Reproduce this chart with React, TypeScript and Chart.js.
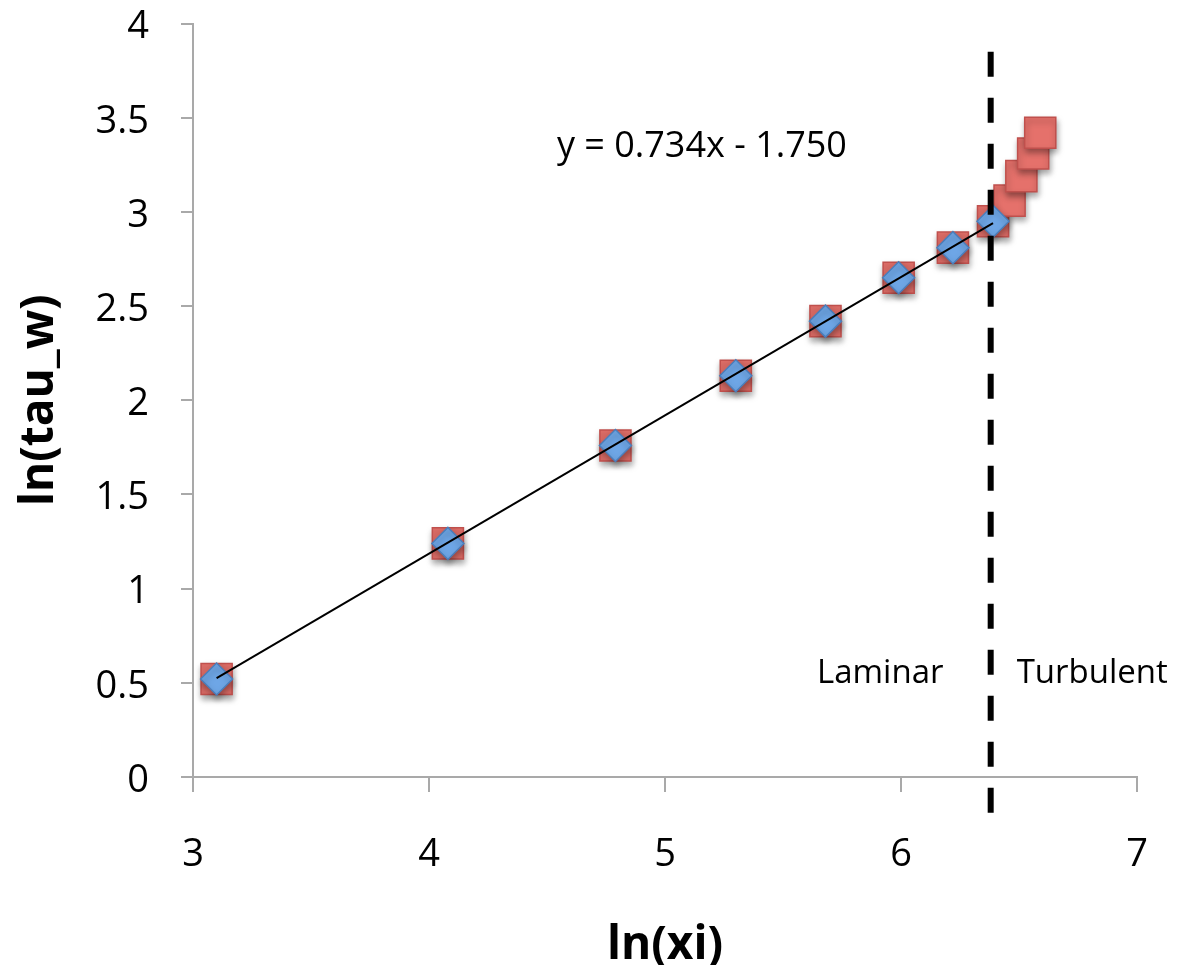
import React, { useEffect, useRef } from 'react';
import { Chart, registerables } from 'chart.js';

Chart.register(...registerables);

// Laminar region measurements (ln(xi), ln(tau_w))
const laminarX = [3.10, 4.08, 4.79, 5.30, 5.68, 5.99, 6.22, 6.39];
const laminarY = [0.52, 1.24, 1.76, 2.13, 2.42, 2.65, 2.81, 2.95];
// Turbulent region measurements
const turbulentX = [6.46, 6.51, 6.56, 6.59];
const turbulentY = [3.06, 3.19, 3.31, 3.42];
// Trend line of the laminar points
const trendSlope = 0.734;
const trendIntercept = -1.75;
const trendXRange = [3.10, 6.39];
const trendLabel = 'y = 0.734x - 1.750';
// Laminar / turbulent boundary
const boundaryX = 6.38;
const boundaryYRange = [3.85, -0.26];
// Axes
const xMin = 3;
const xMax = 7;
const yMin = 0;
const yMax = 4;
const xTickValues = [3, 4, 5, 6, 7];
const yTickValues = [0, 0.5, 1, 1.5, 2, 2.5, 3, 3.5, 4];
const xTitle = 'ln(xi)';
const yTitle = 'ln(tau_w)';
const regionLabels = ['Laminar', 'Turbulent'];
const regionLabelX = [5.644, 6.49];
const regionLabelY = 0.55;
const trendLabelPos = { x: 4.542, y: 3.344 };

const FONT = "'Open Sans', 'DejaVu Sans', sans-serif";
const AXIS_COLOR = '#a9a9a9';

export default function App() {
  const ref = useRef<HTMLCanvasElement | null>(null);

  useEffect(() => {
    const canvas = ref.current;
    if (!canvas) return;

    const allX = [...laminarX, ...turbulentX];
    const allY = [...laminarY, ...turbulentY];
    const redPoints = allX.map((x, i) => ({ x, y: allY[i] }));
    const bluePoints = laminarX.map((x, i) => ({ x, y: laminarY[i] }));
    const trendPoints = trendXRange.map((x) => ({ x, y: trendSlope * x + trendIntercept }));
    const boundaryPoints = boundaryYRange.map((y) => ({ x: boundaryX, y }));

    const shadowPlugin = {
      id: 'markerShadow',
      beforeDatasetDraw(chart: any, args: any) {
        if (args.index === 2 || args.index === 3) {
          const ctx = chart.ctx;
          ctx.save();
          ctx.shadowColor = 'rgba(0,0,0,0.35)';
          ctx.shadowBlur = 6;
          ctx.shadowOffsetX = 1;
          ctx.shadowOffsetY = 4;
        }
      },
      afterDatasetDraw(chart: any, args: any) {
        if (args.index === 2 || args.index === 3) {
          chart.ctx.restore();
        }
      },
    };

    const textPlugin = {
      id: 'texts',
      afterDatasetsDraw(chart: any) {
        const ctx = chart.ctx;
        const xs = chart.scales.x;
        const ys = chart.scales.y;
        ctx.save();
        ctx.fillStyle = '#000';
        ctx.textBaseline = 'middle';
        ctx.textAlign = 'left';
        ctx.font = `36px ${FONT}`;
        ctx.fillText(trendLabel, xs.getPixelForValue(trendLabelPos.x), ys.getPixelForValue(trendLabelPos.y));
        ctx.font = `33px ${FONT}`;
        regionLabels.forEach((t, i) => {
          ctx.fillText(t, xs.getPixelForValue(regionLabelX[i]), ys.getPixelForValue(regionLabelY));
        });
        ctx.restore();
      },
    };

    const chart = new Chart(canvas, {
      type: 'scatter',
      data: {
        datasets: [
          {
            type: 'line',
            data: boundaryPoints,
            borderColor: '#000',
            borderWidth: 6,
            borderDash: [25, 21],
            pointRadius: 0,
            fill: false,
            clip: false as any,
            order: 0,
          },
          {
            type: 'line',
            data: trendPoints,
            borderColor: '#000',
            borderWidth: 2,
            pointRadius: 0,
            fill: false,
            order: 1,
          },
          {
            data: bluePoints,
            pointStyle: 'rectRot',
            pointRadius: 16,
            backgroundColor: '#6ea6e6',
            borderColor: '#4a7ebb',
            borderWidth: 1.5,
            clip: false as any,
            order: 2,
          },
          {
            data: redPoints,
            pointStyle: 'rect',
            pointRadius: 22,
            backgroundColor: '#e5716b',
            borderColor: '#c0504d',
            borderWidth: 1.5,
            clip: false as any,
            order: 3,
          },
        ] as any,
      },
      options: {
        animation: false,
        responsive: false,
        maintainAspectRatio: false,
        layout: { padding: { top: 21, right: 51, bottom: 0, left: 0 } },
        plugins: {
          legend: { display: false },
          tooltip: { enabled: false },
        },
        scales: {
          x: {
            type: 'linear',
            min: xMin,
            max: xMax,
            afterBuildTicks(scale: any) {
              scale.ticks = xTickValues.map((v) => ({ value: v }));
            },
            afterFit(scale: any) {
              scale.height = 188;
              scale.paddingLeft = 0;
              scale.paddingRight = 0;
            },
            grid: {
              drawOnChartArea: false,
              drawTicks: true,
              tickLength: 15,
              color: AXIS_COLOR,
              lineWidth: 2,
            },
            border: { display: true, color: AXIS_COLOR, width: 2 },
            ticks: {
              color: '#000',
              font: { family: FONT, size: 38, lineHeight: 1 },
              padding: 44,
              callback: (v: any) => String(v),
            },
            title: {
              display: true,
              text: xTitle,
              color: '#000',
              font: { family: FONT, size: 46, weight: 'bold', lineHeight: 1.2 },
              padding: { top: 0, bottom: -8 },
            },
          },
          y: {
            type: 'linear',
            min: yMin,
            max: yMax,
            afterBuildTicks(scale: any) {
              scale.ticks = yTickValues.map((v) => ({ value: v }));
            },
            afterFit(scale: any) {
              scale.width = 193;
              scale.paddingTop = 0;
              scale.paddingBottom = 0;
            },
            grid: {
              drawOnChartArea: false,
              drawTicks: true,
              tickLength: 12,
              color: AXIS_COLOR,
              lineWidth: 2,
            },
            border: { display: true, color: AXIS_COLOR, width: 2 },
            ticks: {
              color: '#000',
              font: { family: FONT, size: 38, lineHeight: 1 },
              padding: 32,
              labelOffset: 4,
              callback: (v: any) => String(v),
            },
            title: {
              display: true,
              text: yTitle,
              color: '#000',
              font: { family: FONT, size: 46, weight: 'bold', lineHeight: 1.2 },
              padding: { top: 12, bottom: 0 },
            },
          },
        },
      },
      plugins: [shadowPlugin, textPlugin],
    });

    return () => chart.destroy();
  }, []);

  return (
    <div style={{ position: 'fixed', left: 0, top: 0, width: 1188, height: 965, overflow: 'hidden', background: '#fff' }}>
      <canvas ref={ref} width={1188} height={965} style={{ display: 'block', width: 1188, height: 965 }} />
    </div>
  );
}
